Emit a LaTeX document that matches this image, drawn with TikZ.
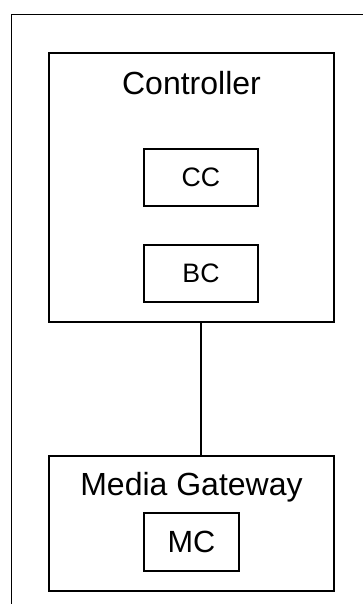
\documentclass[tikz,border=0pt]{standalone}
\usepackage{fontspec}
\setmainfont{Liberation Sans}
\usetikzlibrary{positioning,calc}

\begin{document}
\begin{tikzpicture}[
    x=0.75pt,y=-0.75pt,line width=1pt,
    box/.style={draw=black,rectangle,inner sep=0pt},
    part/.style={box,minimum width=85.5pt,minimum height=42.75pt,font=\fontsize{20}{22}\selectfont},
    title/.style={anchor=base,inner sep=0pt,font=\fontsize{24}{28}\selectfont}
  ]
  \useasboundingbox (0,0) rectangle (363,604);
  % open frame round the whole system
  \draw[line width=1.4pt] (363,14.5) -- (11.5,14.5) -- (11.5,604);
  \node[box,minimum width=213.75pt,minimum height=201.75pt] (ctrl) at (191.5,187.5) {};
  \node[title] (ctrltitle) at (191.5,94) {Controller};
  \node[part] (cc) at (201,177.5) {CC};
  \node[part] (bc) at (201,273.5) {BC};
  \node[box,minimum width=213.75pt,minimum height=101.25pt] (mg) at (191.5,523.5) {};
  \node[title] (mgtitle) at (191.5,495) {Media Gateway};
  \node[box,minimum width=71.25pt,minimum height=43.5pt,font=\fontsize{23}{26}\selectfont] (mc) at (191.5,542) {MC};
  \draw (cc.south |- ctrl.south) -- (cc.south |- mg.north);
\end{tikzpicture}
\end{document}
